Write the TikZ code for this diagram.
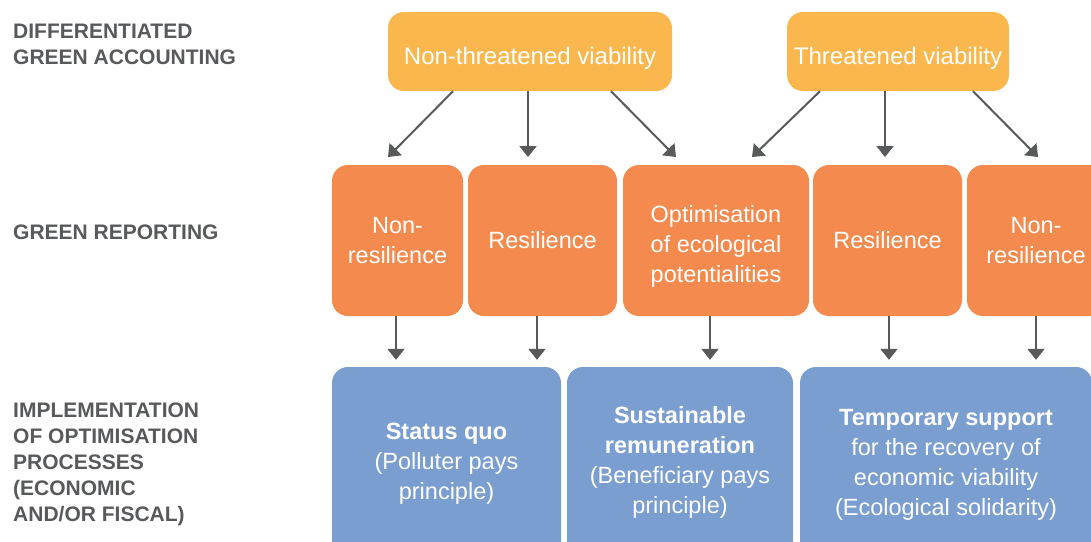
\documentclass[tikz,border=0pt]{standalone}
\usepackage{fontspec}
\setmainfont{Liberation Sans}
\usetikzlibrary{arrows.meta}
\definecolor{topc}{HTML}{F9B74E}
\definecolor{midc}{HTML}{F48A4D}
\definecolor{botc}{HTML}{7B9ED0}
\definecolor{grayc}{HTML}{58595B}
\begin{document}
\begin{tikzpicture}[x=1pt,y=-1pt,
  box/.style={rounded corners=16pt, text=white, align=center, inner sep=0pt, font=\fontsize{23.5}{30}\selectfont},
  topbox/.style={box, fill=topc, minimum height=79pt, font=\fontsize{24}{30}\selectfont, text height=26pt, text depth=0pt},
  midbox/.style={box, fill=midc, minimum height=151pt},
  botbox/.style={box, fill=botc},
  lab/.style={anchor=north west, align=left, text=grayc, font=\bfseries\fontsize{21}{26}\selectfont, inner sep=0pt},
  arr/.style={draw=grayc, line width=2pt, -{Triangle[width=17pt,length=11pt]}},
]
\useasboundingbox (0,0) rectangle (1091,541);
\clip (0,0) rectangle (1091,541);

% row labels
\node[lab] (l1) at (13,24) {DIFFERENTIATED\\GREEN ACCOUNTING};
\node[lab] (l2) at (13,225) {GREEN REPORTING};
\node[lab] (l3) at (13,403) {IMPLEMENTATION\\OF OPTIMISATION\\PROCESSES\\(ECONOMIC\\AND/OR FISCAL)};

% top row
\node[topbox, minimum width=284pt] (t1) at (530,51.5) {Non-threatened viability};
\node[topbox, minimum width=222pt] (t2) at (898,51.5) {Threatened viability};

% middle row
\node[midbox, minimum width=131pt] (b1) at (397.5,240.5) {Non-\\resilience};
\node[midbox, minimum width=149pt] (b2) at (542.5,240.5) {Resilience};
\node[midbox, minimum width=186pt] (b3) at (716,240.5) {\rule{0pt}{29pt}Optimisation\\of ecological\\potentialities};
\node[midbox, minimum width=149pt] (b4) at (887.5,240.5) {Resilience};
\node[midbox, minimum width=138pt] (b5) at (1036,240.5) {Non-\\resilience};

% bottom row
\node[botbox, minimum width=229pt, minimum height=194pt] (c1) at (446.5,464) {\textbf{Status quo}\\(Polluter pays\\principle)};
\node[botbox, minimum width=226pt, minimum height=190pt] (c2) at (680,462) {\textbf{Sustainable}\\\textbf{remuneration}\\(Beneficiary pays\\principle)};
\node[botbox, minimum width=292pt, minimum height=196pt] (c3) at (946,465) {\textbf{Temporary support}\\for the recovery of\\economic viability\\(Ecological solidarity)};

% arrow ends, top to middle
\coordinate (e1) at (388,157);
\coordinate (e2) at (528,157);
\coordinate (e3) at (676,157);
\coordinate (e4) at (752,157);
\coordinate (e5) at (885,157);
\coordinate (e6) at (1038,157);

\draw[arr] ([xshift=-77pt]t1.south) -- (e1);
\draw[arr] ([xshift=-2pt]t1.south) -- (e2);
\draw[arr] ([xshift=81pt]t1.south) -- (e3);
\draw[arr] ([xshift=-78pt]t2.south) -- (e4);
\draw[arr] ([xshift=-13pt]t2.south) -- (e5);
\draw[arr] ([xshift=75pt]t2.south) -- (e6);

% middle to bottom
\draw[arr, shorten >=7pt] ([xshift=-1.5pt]b1.south) -- ([xshift=-1.5pt]b1.south |- c1.north);
\draw[arr, shorten >=7pt] ([xshift=-5.5pt]b2.south) -- ([xshift=-5.5pt]b2.south |- c1.north);
\draw[arr, shorten >=7pt] ([xshift=-6pt]b3.south) -- ([xshift=-6pt]b3.south |- c2.north);
\draw[arr, shorten >=7pt] ([xshift=1.5pt]b4.south) -- ([xshift=1.5pt]b4.south |- c3.north);
\draw[arr, shorten >=7pt] (b5.south) -- (b5.south |- c3.north);
\end{tikzpicture}
\end{document}
